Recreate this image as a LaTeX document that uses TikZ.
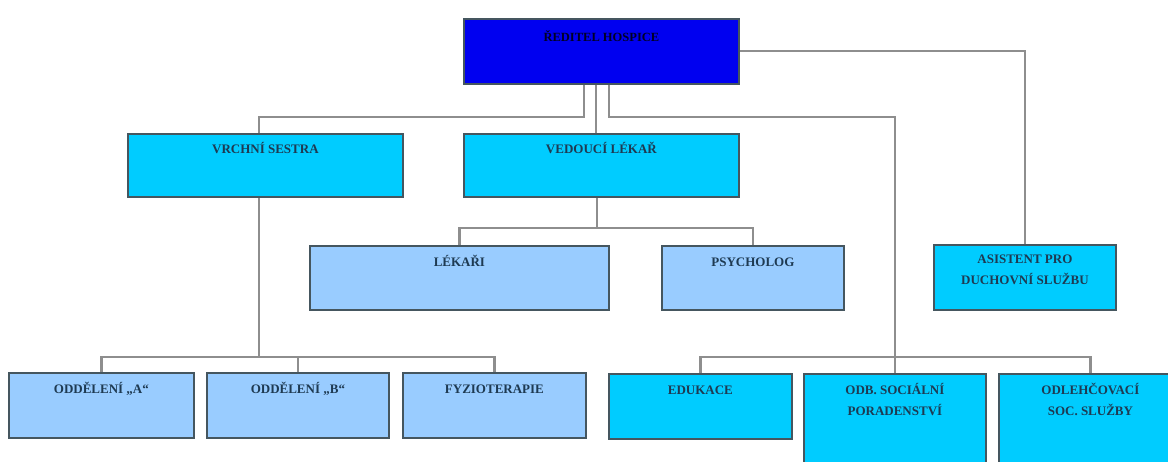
\documentclass[tikz,border=0pt]{standalone}
\usepackage{fontspec}
\setmainfont{Liberation Serif}
\definecolor{cyanbox}{HTML}{00CCFF}
\definecolor{lightbox}{HTML}{99CCFF}
\definecolor{topbox}{HTML}{0000F0}
\definecolor{edge}{HTML}{45565F}
\definecolor{wire}{HTML}{8E8E8E}
\definecolor{ink}{HTML}{1E3A52}
\begin{document}
\begin{tikzpicture}[x=1pt,y=-1pt,
  orgbox/.style={draw=edge, line width=1.8pt, inner sep=0pt, anchor=north west},
  boxtext/.style={font=\bfseries\fontsize{13}{21}\selectfont, text=ink, align=center,
    inner sep=0pt, anchor=north, execute at begin node=\rule{0pt}{11pt}},
  wireline/.style={draw=wire, line width=2.2pt}]
\useasboundingbox (0,0) rectangle (1168,462);
\clip (0,0) rectangle (1168,462);
\fill[white] (0,0) rectangle (1168,462);

% boxes
\node[orgbox, fill=topbox, minimum width=275pt, minimum height=65pt,
  label={[boxtext, font=\bfseries\fontsize{12.5}{20}\selectfont, text=black!85!blue, yshift=-12pt]north:ŘEDITEL HOSPICE}] (top) at (463,18) {};
\node[orgbox, fill=cyanbox, minimum width=275pt, minimum height=63pt,
  label={[boxtext, yshift=-9.5pt]north:VRCHNÍ SESTRA}] (vs) at (127,133) {};
\node[orgbox, fill=cyanbox, minimum width=275pt, minimum height=63pt,
  label={[boxtext, yshift=-9.5pt]north:VEDOUCÍ LÉKAŘ}] (vl) at (463,133) {};
\node[orgbox, fill=lightbox, minimum width=299pt, minimum height=64pt,
  label={[boxtext, yshift=-10.5pt]north:LÉKAŘI}] (lek) at (309,245) {};
\node[orgbox, fill=lightbox, minimum width=182pt, minimum height=64pt,
  label={[boxtext, yshift=-10.5pt]north:PSYCHOLOG}] (psy) at (661,245) {};
\node[orgbox, fill=cyanbox, minimum width=182pt, minimum height=65pt,
  label={[boxtext, yshift=-10.5pt]north:ASISTENT PRO\\DUCHOVNÍ SLUŽBU}] (asi) at (933,244) {};
\node[orgbox, fill=lightbox, minimum width=185pt, minimum height=65pt,
  label={[boxtext, yshift=-10pt]north:ODDĚLENÍ „A“}] (oa) at (8,372) {};
\node[orgbox, fill=lightbox, minimum width=182pt, minimum height=65pt,
  label={[boxtext, yshift=-10pt]north:ODDĚLENÍ „B“}] (ob) at (206,372) {};
\node[orgbox, fill=lightbox, minimum width=183pt, minimum height=65pt,
  label={[boxtext, yshift=-10pt]north:FYZIOTERAPIE}] (fyz) at (402,372) {};
\node[orgbox, fill=cyanbox, minimum width=183pt, minimum height=65pt,
  label={[boxtext, yshift=-10pt]north:EDUKACE}] (edu) at (608,373) {};
\node[orgbox, fill=cyanbox, minimum width=182pt, minimum height=100pt,
  label={[boxtext, yshift=-10pt]north:ODB. SOCIÁLNÍ\\PORADENSTVÍ}] (odb) at (803,373) {};
\node[orgbox, fill=cyanbox, minimum width=183pt, minimum height=100pt,
  label={[boxtext, yshift=-10pt]north:ODLEHČOVACÍ\\SOC. SLUŽBY}] (odl) at (998,373) {};

% connectors
\draw[wireline] ([xshift=-17.5pt]top.south) -- ++(0,32) -| ([xshift=-6.5pt]vs.north);
\draw[wireline] ([xshift=-5.5pt]top.south) -- ([xshift=-5.5pt]vl.north);
\draw[wireline] ([xshift=7.5pt]top.south) -- ++(0,32) -| (odb.north);
\draw[wireline] (top.east) -| (asi.north);
\draw[wireline] ([xshift=-4.5pt]vl.south) -- ([xshift=-4.5pt,yshift=17pt]vl.south |- lek.north);
\draw[wireline] (lek.north) -- ++(0,-17) -| (psy.north);
\draw[wireline] ([xshift=-6.5pt]vs.south) -- ([xshift=-6.5pt,yshift=15pt]vs.south |- oa.north);
\draw[wireline] (oa.north) -- ++(0,-15) -| (fyz.north);
\draw[wireline] (ob.north) -- ++(0,-15);
\draw[wireline] (edu.north) -- ++(0,-16) -| (odl.north);
\end{tikzpicture}
\end{document}
